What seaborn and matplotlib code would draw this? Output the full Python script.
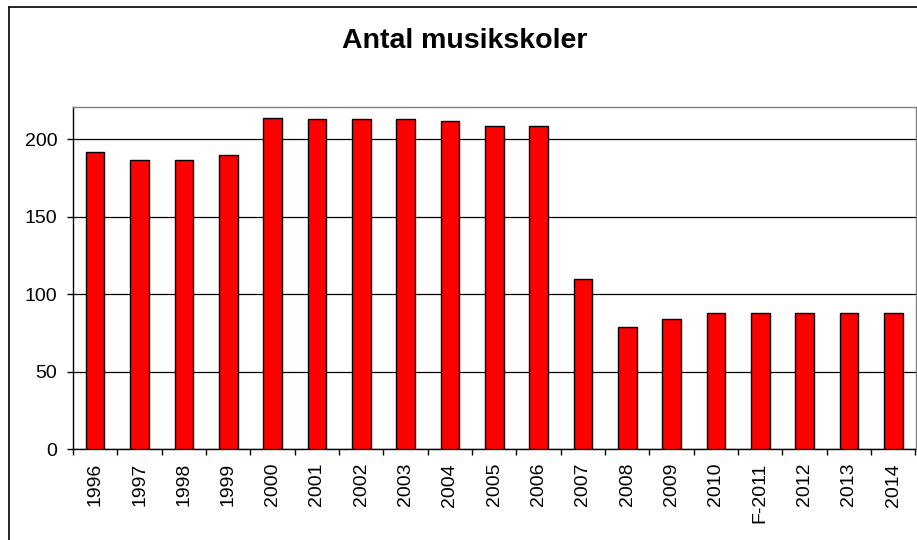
import matplotlib
matplotlib.use("Agg")
import matplotlib.pyplot as plt
import seaborn as sns
import pandas as pd
import numpy as np
from matplotlib.lines import Line2D

years = ["1996", "1997", "1998", "1999", "2000", "2001", "2002", "2003", "2004",
         "2005", "2006", "2007", "2008", "2009", "2010", "F-2011", "2012", "2013", "2014"]
counts = [192, 187, 187, 190, 214, 213, 213, 213, 212, 209, 209, 110, 79, 84, 88, 88, 88, 88, 88]
title = "Antal musikskoler"

df = pd.DataFrame({"year": years, "count": counts})

sns.set_theme(style="white")
plt.rcParams['font.family'] = ['Liberation Sans', 'DejaVu Sans']

fig = plt.figure(figsize=(9.17, 5.40), dpi=100)
ax = fig.add_axes([73/917, 91/540, (915.5-73)/917, (449-107)/540])

sns.barplot(data=df, x="year", y="count", color="#FF0000", saturation=1,
            width=0.42, edgecolor="black", linewidth=1.0, ax=ax, zorder=3)

ax.set_ylim(0, 221)
ax.set_xlim(-0.5, len(years) - 0.5)
ax.set_yticks([0, 50, 100, 150, 200])
ax.yaxis.grid(True, color="black", linewidth=0.9, zorder=0)
ax.set_axisbelow(True)
ax.set_xlabel("")
ax.set_ylabel("")

ax.set_xticks(np.arange(len(years)))
ax.set_xticklabels(years, rotation=90)
ax.set_xticks(np.arange(-0.5, len(years)), minor=True)
ax.tick_params(axis="x", which="major", length=0, pad=10, labelsize=14, colors="black")
ax.tick_params(axis="x", which="minor", length=4.3, width=1, color="black", direction="out", bottom=True)
ax.tick_params(axis="y", which="major", length=4.3, width=1, color="black", direction="out",
               left=True, pad=7, labelsize=14, labelcolor="black")

for s in ["left", "bottom"]:
    ax.spines[s].set_color("black")
    ax.spines[s].set_linewidth(1.0)
for s in ["top", "right"]:
    ax.spines[s].set_color("#808080")
    ax.spines[s].set_linewidth(1.0)
    ax.spines[s].set_visible(True)

fig.text(465/917, 1 - 41/540, title, ha="center", va="center",
         fontsize=20.5, fontweight="bold", color="black")

# outer chart border (left and top visible)
fig.add_artist(Line2D([8.5/917, 8.5/917], [0, 1 - 6.5/540], transform=fig.transFigure,
                      color="black", linewidth=1.2))
fig.add_artist(Line2D([8.5/917, 1], [1 - 6.5/540, 1 - 6.5/540], transform=fig.transFigure,
                      color="black", linewidth=1.2))

fig.savefig("out.png", dpi=100)
